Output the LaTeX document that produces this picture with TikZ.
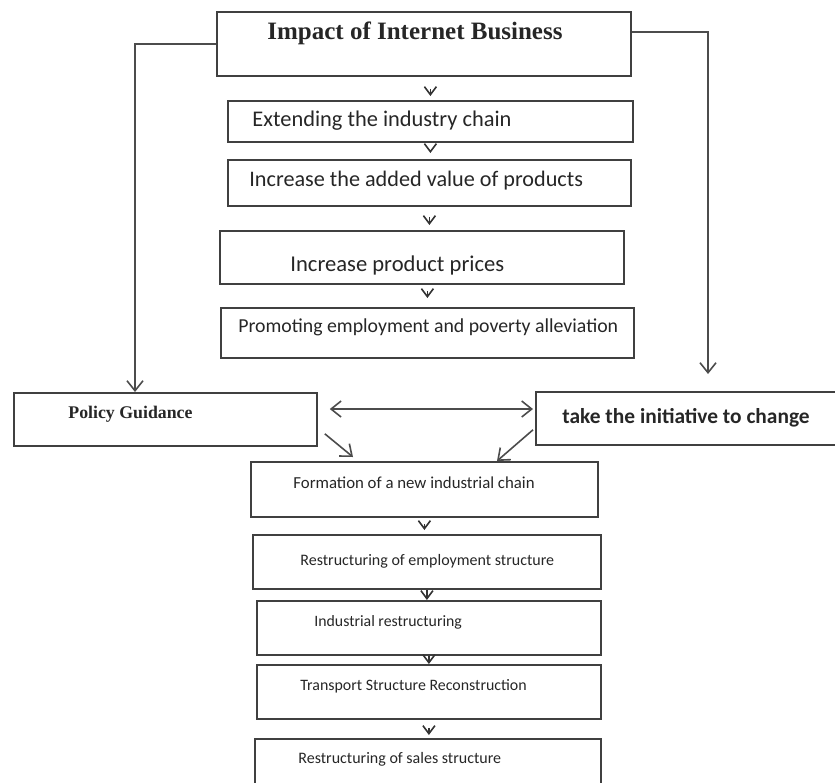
\documentclass[tikz,border=0pt]{standalone}
\usepackage{fontspec}
\setmainfont{Carlito}
\newfontfamily\timesfont{Liberation Serif}
\usetikzlibrary{arrows.meta, positioning, calc}

\begin{document}
\begin{tikzpicture}[x=0.5pt, y=-0.5pt,
    box/.style={draw=black!75, line width=0.9pt, inner sep=0pt, anchor=north west},
    label/.style={anchor=west, inner sep=0pt, text=black!85},
    link/.style={draw=black!70, line width=0.8pt, -{Straight Barb[length=5pt, width=8pt]}},
    chev/.style={draw=black!80, line width=0.8pt, -{Straight Barb[length=4pt, width=6pt]}, shorten <=#1},
    chev/.default=6pt
]

% Page frame
\useasboundingbox (0,0) rectangle (835,782);

% Top box
\node[box, minimum width=207pt, minimum height=32pt] (impact) at (216,11) {};
\node[label, font=\timesfont\bfseries\fontsize{12.5}{14}\selectfont] (impacttxt) at (267,33) {Impact of Internet Business};

% Upper chain
\node[box, minimum width=202.5pt, minimum height=20.5pt] (ext) at (227,100) {};
\node[label, font=\fontsize{11.2}{13}\selectfont] (exttxt) at (252,121) {Extending the industry chain};

\node[box, minimum width=201.5pt, minimum height=23pt] (added) at (227,159) {};
\node[label, font=\fontsize{11.1}{13}\selectfont] (addedtxt) at (249,181) {Increase the added value of products};

\node[box, minimum width=202pt, minimum height=26.5pt] (prices) at (219,230) {};
\node[label, font=\fontsize{11.3}{13}\selectfont] (pricestxt) at (290,265) {Increase product prices};

\node[box, minimum width=206.5pt, minimum height=25pt] (promo) at (220,307) {};
\node[label, font=\fontsize{9.9}{12}\selectfont] (promotxt) at (238,327) {Promoting employment and poverty alleviation};

% Middle row
\node[box, minimum width=151.5pt, minimum height=26.5pt] (policy) at (13,392) {};
\node[label, font=\timesfont\bfseries\fontsize{8.9}{10}\selectfont] (policytxt) at (68,414) {Policy Guidance};

\node[box, minimum width=160pt, minimum height=26.5pt] (init) at (535,391) {};
\node[label, font=\bfseries\fontsize{10.7}{13}\selectfont] (inittxt) at (562,418) {take the initiative to change};

% Lower chain
\node[box, minimum width=173.5pt, minimum height=27.5pt] (form) at (250,461) {};
\node[label, font=\fontsize{8.4}{10}\selectfont] (formtxt) at (293,483) {Formation of a new industrial chain};

\node[box, minimum width=174pt, minimum height=27pt] (employ) at (252,534) {};
\node[label, font=\fontsize{8}{10}\selectfont] (employtxt) at (300,561) {Restructuring of employment structure};

\node[box, minimum width=172pt, minimum height=27pt] (indus) at (256,600) {};
\node[label, font=\fontsize{7.9}{10}\selectfont] (industxt) at (314,622) {Industrial restructuring};

\node[box, minimum width=172pt, minimum height=27pt] (trans) at (256,664) {};
\node[label, font=\fontsize{7.95}{10}\selectfont] (transtxt) at (300,686) {Transport Structure Reconstruction};

\node[box, minimum width=173pt, minimum height=31pt] (sales) at (254,738) {};
\node[label, font=\fontsize{8}{10}\selectfont] (salestxt) at (298,759) {Restructuring of sales structure};

% Chevrons between boxes
\draw[chev=6pt, shorten >=2pt] (impact.south -| ext.north) -- (ext.north);
\draw[chev=4pt, shorten >=3pt] (ext.south) -- (added.north -| ext.south);
\draw[chev=5pt, shorten >=2.5pt] (added.south) -- (prices.north -| added.south);
\draw[chev=3pt, shorten >=4.5pt] (prices.south -| promo.north) -- (promo.north);
\draw[chev=3pt, shorten >=2pt] (form.south) -- (employ.north -| form.south);
\draw[chev=0pt] (employ.south) -- (indus.north -| employ.south);
\draw[chev=0pt] (indus.south -| trans.north) -- (trans.north);
\draw[chev=4pt, shorten >=1.5pt] (trans.south) -- (sales.north -| trans.south);

% Side branches
\draw[link] (impact.west) -| ($(policy.north west)+(122,0)$);
\draw[link, shorten >=8.5pt] ($(impact.north east)+(0,21)$) -| ($(init.north west)+(173,0)$);

% Between the two middle boxes
\draw[link, {Straight Barb[length=5pt, width=8pt]}-{Straight Barb[length=5pt, width=8pt]}]
    ($(policy.north east)+(12,17)$) -- ($(init.north west)+(-2,18)$);
\draw[link] ($(policy.south east)+(7,-13)$) -- ($(form.north west)+(103,-4)$);
\draw[link] ($(init.south west)+(-2,-16)$) -- ($(form.north west)+(247,0)$);

\end{tikzpicture}
\end{document}
